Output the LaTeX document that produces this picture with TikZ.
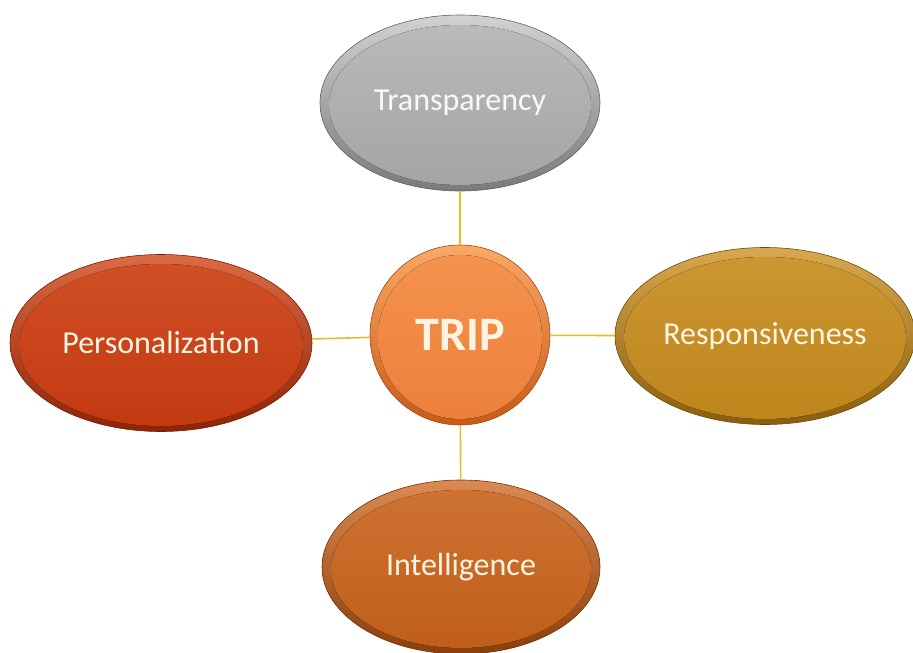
\documentclass[tikz,border=0pt]{standalone}
\usepackage{fontspec}
\setmainfont{Carlito}
\usetikzlibrary{shapes.geometric}

% bevelled face colours: light rim, base face, dark rim
\definecolor{grayL}{HTML}{D2D2D2}\definecolor{grayM}{HTML}{A9A9A9}\definecolor{grayD}{HTML}{7A7A7A}
\definecolor{oraL}{HTML}{FBA866}\definecolor{oraM}{HTML}{F0843E}\definecolor{oraD}{HTML}{C85A18}
\definecolor{redL}{HTML}{DC6A44}\definecolor{redM}{HTML}{C93C12}\definecolor{redD}{HTML}{8E2406}
\definecolor{golL}{HTML}{D9A84E}\definecolor{golM}{HTML}{C38A1E}\definecolor{golD}{HTML}{8A5E0C}
\definecolor{brnL}{HTML}{DC8A52}\definecolor{brnM}{HTML}{C5621C}\definecolor{brnD}{HTML}{8A3E0A}
\definecolor{linkC}{HTML}{E9BB2C}
\definecolor{txtC}{HTML}{FFF4E2}

\tikzset{
  orb/.style={ellipse, inner sep=0pt, draw=#1D!80!black, line width=0.6pt,
              top color=#1L, bottom color=#1D, shading angle=0},
  face/.style={top color=#1L!40!#1M, bottom color=#1M!90!#1D},
  lbl/.style={text=txtC, font=\fontsize{32}{36}\selectfont},
  link/.style={draw=linkC, line width=1.6pt}
}

\begin{document}
\begin{tikzpicture}[x=1pt, y=-1pt]
  \useasboundingbox (0,0) rectangle (913,653);
  \clip (0,0) rectangle (913,653);

  % central disc
  \node[orb=ora, circle, minimum size=180pt] (trip) at (460,335) {};
  \fill[face=ora] (trip.center) ++(0,2) circle [radius=82];
  \node[text=txtC, font=\bfseries\fontsize{48}{52}\selectfont] (tript) at (trip) {TRIP};

  % top
  \node[orb=gray, minimum width=280pt, minimum height=176pt] (trans) at (460,103) {};
  \fill[face=gray] (trans.center) ++(0,2) ellipse [x radius=131, y radius=80];
  \node[lbl, text=white!95!gray] (transt) at (trans) {Transparency};

  % left
  \node[orb=red, minimum width=302pt, minimum height=177pt] (pers) at (161,343) {};
  \fill[face=red] (pers.center) ++(0,2) ellipse [x radius=142, y radius=81];
  \node[lbl] (perst) at (pers) {Personalization};

  % right
  \node[orb=gol, minimum width=300pt, minimum height=177pt] (resp) at (765,336) {};
  \fill[face=gol] (resp.center) ++(0,2) ellipse [x radius=141, y radius=81];
  \node[lbl] (respt) at (resp) {Responsiveness};

  % bottom
  \node[orb=brn, minimum width=278pt, minimum height=174pt] (intl) at (461,567) {};
  \fill[face=brn] (intl.center) ++(0,2) ellipse [x radius=130, y radius=79];
  \node[lbl] (intlt) at (intl) {Intelligence};

  % spokes
  \draw[link] (trans) -- (trip);
  \draw[link] (pers) -- (trip);
  \draw[link] (resp) -- (trip);
  \draw[link] (intl) -- (trip);
\end{tikzpicture}
\end{document}
